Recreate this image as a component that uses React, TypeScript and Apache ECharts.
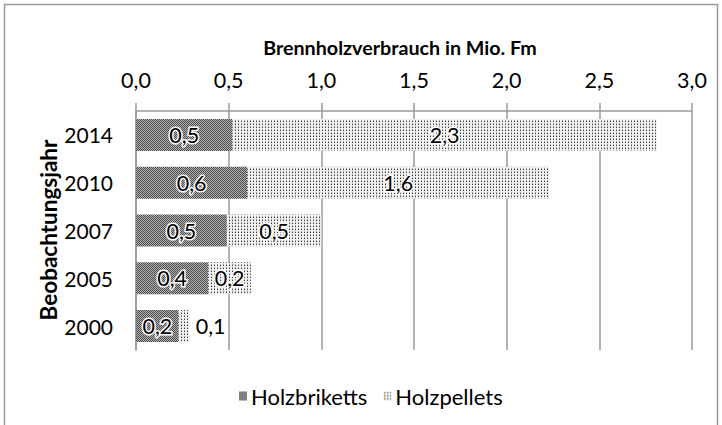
import { useEffect, useRef } from 'react';
import * as echarts from 'echarts';

const years = ['2000', '2005', '2007', '2010', '2014'];
const briketts = [0.23, 0.39, 0.49, 0.6, 0.52];
const pellets = [0.06, 0.23, 0.51, 1.63, 2.29];
const seriesNames = ['Holzbriketts', 'Holzpellets'];
const xTitle = 'Brennholzverbrauch in Mio. Fm';
const yTitle = 'Beobachtungsjahr';

const FONT = 'Lato, "Open Sans", sans-serif';
const FS = 21.5;
const fmt = (v: number) => v.toFixed(1).replace('.', ',');

function makeTile(size: number, paint: (ctx: CanvasRenderingContext2D) => void) {
  const c = document.createElement('canvas');
  c.width = size;
  c.height = size;
  const ctx = c.getContext('2d')!;
  paint(ctx);
  return c;
}

export default function App() {
  const ref = useRef<HTMLDivElement>(null);
  useEffect(() => {
    if (!ref.current) return;
    const chart = echarts.init(ref.current, undefined, { renderer: 'svg' });
    const darkTile = makeTile(2, (ctx) => {
      ctx.fillStyle = '#b4b4b4';
      ctx.fillRect(0, 0, 2, 2);
      ctx.fillStyle = '#4a4a4a';
      ctx.fillRect(0, 0, 1, 1);
      ctx.fillRect(1, 1, 1, 1);
    });
    const lightTile = makeTile(3, (ctx) => {
      ctx.fillStyle = '#f0f0f0';
      ctx.fillRect(0, 0, 3, 3);
      ctx.fillStyle = '#a8a8a8';
      ctx.fillRect(1, 0, 1, 1);
      ctx.fillStyle = '#383838';
      ctx.fillRect(1, 1, 1, 1);
    });
    const labelBase = {
      show: true,
      position: 'inside' as const,
      color: '#000',
      fontFamily: FONT,
      fontSize: FS,
      textBorderColor: '#fff',
      textBorderWidth: 3,
      formatter: (p: any) => fmt(p.value),
    };
    chart.setOption({
      animation: false,
      backgroundColor: '#fff',
      graphic: [
        {
          type: 'rect',
          shape: { x: 4.5, y: 4.5, width: 713, height: 440 },
          style: { fill: 'none', stroke: '#9a9a9a', lineWidth: 1.5 },
          silent: true,
        },
        {
          type: 'text',
          x: 400,
          y: 47,
          style: {
            text: xTitle,
            fontFamily: FONT,
            fontWeight: 'bold',
            fontSize: 19.7,
            fill: '#000',
            align: 'center',
            verticalAlign: 'middle',
          },
        },
        {
          type: 'text',
          x: 48,
          y: 230,
          rotation: Math.PI / 2,
          style: {
            text: yTitle,
            fontFamily: FONT,
            fontWeight: 'bold',
            fontSize: 22.5,
            fill: '#000',
            align: 'center',
            verticalAlign: 'middle',
          },
        },
      ],
      legend: {
        data: seriesNames,
        top: 380,
        left: 234,
        itemWidth: 8,
        itemHeight: 9,
        itemGap: 16,
        icon: 'rect',
        textStyle: { fontFamily: FONT, fontSize: 22, color: '#000', padding: [0, 0, 0, -1] },
      },
      grid: { left: 136, right: 30, top: 111, bottom: 75, containLabel: false },
      xAxis: {
        type: 'value',
        position: 'top',
        min: 0,
        max: 3,
        interval: 0.5,
        axisLine: { show: true, lineStyle: { color: '#9a9a9a', width: 1.5 } },
        axisTick: { show: true, length: 8, lineStyle: { color: '#9a9a9a', width: 1.5 } },
        splitLine: { show: true, lineStyle: { color: '#9a9a9a', width: 1.5 } },
        axisLabel: {
          formatter: (v: number) => fmt(v),
          fontFamily: FONT,
          fontSize: FS,
          color: '#000',
          margin: 20,
        },
      },
      yAxis: {
        type: 'category',
        data: years,
        axisLine: { show: true, lineStyle: { color: '#9a9a9a', width: 1.5 } },
        axisTick: { show: false },
        axisLabel: { fontFamily: FONT, fontSize: 21, color: '#000', margin: 23 },
      },
      series: [
        {
          name: seriesNames[0],
          type: 'bar',
          stack: 'total',
          barWidth: 32,
          data: briketts,
          itemStyle: { color: { image: darkTile, repeat: 'repeat' } },
          label: labelBase,
        },
        {
          name: seriesNames[1],
          type: 'bar',
          stack: 'total',
          barWidth: 32,
          data: pellets.map((v, i) =>
            i === 0
              ? { value: v, label: { position: 'right', distance: 6, textBorderWidth: 0 } }
              : v
          ),
          itemStyle: { color: { image: lightTile, repeat: 'repeat' } },
          label: labelBase,
        },
      ],
    });
    return () => chart.dispose();
  }, []);
  return (
    <div
      ref={ref}
      style={{ position: 'fixed', left: 0, top: 0, width: 722, height: 425 }}
    />
  );
}
